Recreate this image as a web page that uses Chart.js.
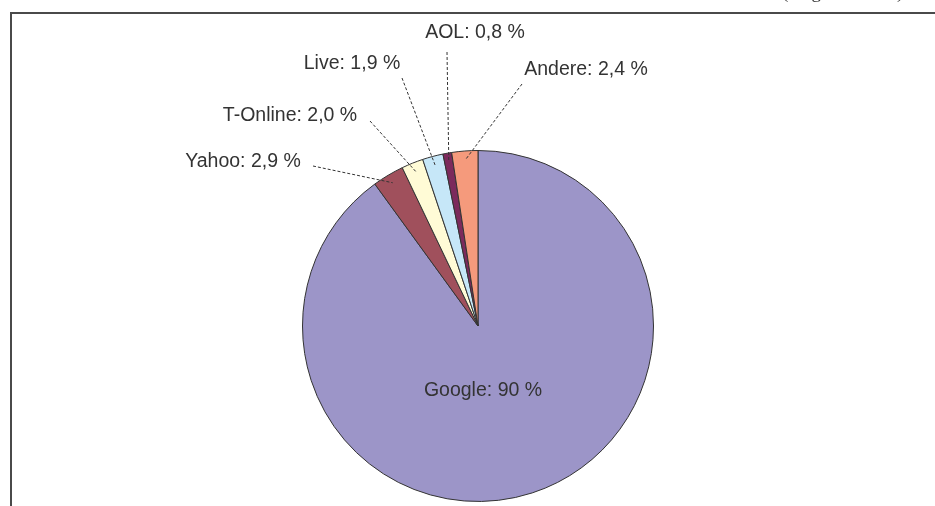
<!DOCTYPE html>
<html>
<head>
<meta charset="utf-8">
<script src="https://cdn.jsdelivr.net/npm/chart.js@4"></script>
<style>
  html, body { margin: 0; padding: 0; background: #fff; }
  #wrap { width: 935px; height: 506px; overflow: hidden; }
</style>
</head>
<body>
<div id="wrap"><canvas id="myChart" width="935" height="506"></canvas></div>
<script>
// Suchmaschinen-Anteile (clockwise from 12 o'clock)
var categories = ['Google', 'Yahoo', 'T-Online', 'Live', 'AOL', 'Andere'];
var shares = [90, 2.9, 2.0, 1.9, 0.8, 2.4];
var sliceColors = ['#9c95c8', '#a0505c', '#fffbd6', '#c6e7f8', '#7c2a5c', '#f59a7c'];

// where each label sits (text centre), Google label goes inside the pie
var labelPos = [
  { x: 483, y: 391, inside: true },
  { x: 243, y: 162, lx: 313, ly: 166 },
  { x: 290, y: 116, lx: 370, ly: 121 },
  { x: 352, y: 64,  lx: 402, ly: 78 },
  { x: 475, y: 33,  lx: 447, ly: 52 },
  { x: 586, y: 70,  lx: 522, ly: 84 }
];

// big share without decimals, small ones with one decimal (German comma)
function fmt(v) {
  return v >= 10 ? v.toFixed(0) : v.toFixed(1).replace('.', ',');
}

var labelPlugin = {
  id: 'labelPlugin',
  afterDraw: function (chart) {
    var ctx = chart.ctx;
    var arcs = chart.getDatasetMeta(0).data;
    ctx.save();

    // frame around the figure
    ctx.strokeStyle = '#4a4a4a';
    ctx.lineWidth = 2;
    ctx.beginPath();
    ctx.moveTo(11, 520);
    ctx.lineTo(11, 13);
    ctx.lineTo(940, 13);
    ctx.stroke();

    // caption above the frame (only descenders remain visible)
    ctx.fillStyle = '#333';
    ctx.font = '19px "Liberation Serif", serif';
    ctx.textAlign = 'left';
    ctx.textBaseline = 'alphabetic';
    ctx.fillText('(Angaben in %)', 782, -2);

    // leader lines
    ctx.strokeStyle = '#333';
    ctx.lineWidth = 1;
    ctx.setLineDash([3, 2]);
    arcs.forEach(function (arc, i) {
      var p = labelPos[i];
      if (p.inside) return;
      var mid = (arc.startAngle + arc.endAngle) / 2;
      var r = arc.outerRadius * 0.95;
      ctx.beginPath();
      ctx.moveTo(p.lx, p.ly);
      ctx.lineTo(arc.x + Math.cos(mid) * r, arc.y + Math.sin(mid) * r);
      ctx.stroke();
    });
    ctx.setLineDash([]);

    // label texts
    ctx.fillStyle = '#333';
    ctx.font = '19.5px "Liberation Sans", Arial, sans-serif';
    ctx.textAlign = 'center';
    ctx.textBaseline = 'middle';
    categories.forEach(function (c, i) {
      ctx.fillText(c + ': ' + fmt(shares[i]) + ' %', labelPos[i].x, labelPos[i].y);
    });
    ctx.restore();
  }
};

var ctx = document.getElementById('myChart').getContext('2d');
var myChart = new Chart(ctx, {
  type: 'pie',
  data: {
    labels: categories,
    datasets: [{
      data: shares,
      backgroundColor: sliceColors,
      borderColor: '#333',
      borderWidth: 1
    }]
  },
  options: {
    responsive: false,
    animation: false,
    layout: { padding: { top: 150, bottom: 4, left: 302, right: 281 } },
    plugins: {
      legend: { display: false },
      tooltip: { enabled: false }
    }
  },
  plugins: [labelPlugin]
});
</script>
</body>
</html>
